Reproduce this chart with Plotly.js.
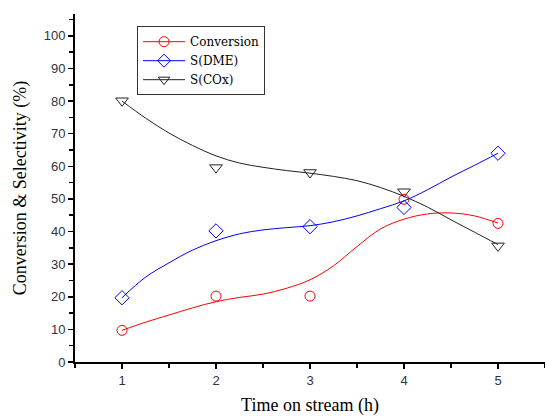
<!DOCTYPE html>
<html>
<head>
<meta charset="utf-8">
<script src="https://cdn.plot.ly/plotly-3.0.1.min.js"></script>
<style>html,body{margin:0;padding:0;background:#fff}#chart{width:545px;height:416px}</style>
</head>
<body>
<div id="chart"></div>
<script>
// measured points
var timeH = [1, 2, 3, 4, 5];
var conversion = [9.7, 20.2, 20.2, 49.9, 42.5];
var sDME = [19.7, 40.2, 41.5, 47.4, 64.0];
var sCOx = [80.1, 59.6, 58.1, 52.2, 35.6];

// smoothed curves
var curveX = [1, 1.25, 1.5, 1.75, 2, 2.25, 2.5, 2.75, 3, 3.25, 3.5, 3.75, 4, 4.25, 4.5, 4.75, 5];
var conversionCurve = [9.7, 12.2, 14.4, 16.6, 18.5, 19.8, 20.8, 22.6, 25.2, 29.5, 35.4, 40.8, 43.8, 45.4, 45.7, 44.8, 42.6];
var dmeCurve = [19.7, 26.0, 30.4, 34.3, 37.2, 39.3, 40.5, 41.2, 41.8, 43.0, 44.8, 47.0, 49.4, 52.8, 56.7, 60.3, 64.0];
var coxCurve = [80.0, 74.8, 70.2, 66.4, 63.2, 61.0, 59.7, 58.7, 57.9, 56.9, 55.6, 53.5, 50.8, 47.5, 43.6, 39.8, 36.0];

var seriesNames = ['Conversion', 'S(DME)', 'S(COx)'];
var colors = ['#ff0000', '#0000ff', '#222222'];
var symbols = ['circle-open', 'diamond-open', 'triangle-down-open'];
var sizes = [10, 11, 11];
var pts = [conversion, sDME, sCOx];
var curves = [conversionCurve, dmeCurve, coxCurve];

var traces = [];
for (var i = 0; i < 3; i++) {
  traces.push({x: curveX, y: curves[i], mode: 'lines', type: 'scatter', showlegend: false,
    line: {color: colors[i], width: 1, shape: 'spline', smoothing: 1}, hoverinfo: 'skip'});
  traces.push({x: timeH, y: pts[i], mode: 'markers', type: 'scatter', showlegend: false,
    marker: {symbol: symbols[i], size: sizes[i], color: colors[i], line: {width: 1, color: colors[i]}}});
}
for (var j = 0; j < 3; j++) {
  traces.push({x: [null], y: [null], mode: 'lines+markers', type: 'scatter', name: seriesNames[j], showlegend: true,
    line: {color: colors[j], width: 1},
    marker: {symbol: symbols[j], size: 10, color: colors[j], line: {width: 1, color: colors[j]}}});
}

var tickFont = {family: 'Liberation Sans, Arial, sans-serif', size: 13, color: '#333340'};
var titleFont = {family: 'Liberation Serif, Times New Roman, serif', size: 18, color: '#000'};

var layout = {
  width: 545, height: 416,
  margin: {l: 75, r: 0, t: 14, b: 54, pad: 0},
  paper_bgcolor: '#fff', plot_bgcolor: '#fff',
  showlegend: true,
  legend: {x: 0.132, y: 0.965, xanchor: 'left', yanchor: 'top',
    bordercolor: '#333', borderwidth: 1, bgcolor: '#fff',
    font: {family: 'DejaVu Serif, Liberation Serif, serif', size: 12, color: '#000'},
    tracegroupgap: 0, itemwidth: 42},
  xaxis: {range: [0.5, 5.5], tickvals: [1, 2, 3, 4, 5], ticktext: ['1', '2', '3', '4', '5'],
    showgrid: false, zeroline: false, showline: true, linecolor: '#000', linewidth: 2,
    ticks: 'outside', ticklen: 5, tickwidth: 1.5, tickcolor: '#000',
    minor: {dtick: 0.5, ticks: 'outside', ticklen: 4, tickwidth: 1.5, tickcolor: '#000', showgrid: false},
    tickfont: tickFont,
    title: {text: 'Time on stream (h)', font: titleFont, standoff: 17}},
  yaxis: {range: [0, 106.7], tickvals: [0, 10, 20, 30, 40, 50, 60, 70, 80, 90, 100],
    showgrid: false, zeroline: false, showline: true, linecolor: '#000', linewidth: 2,
    ticks: 'outside', ticklen: 5, tickwidth: 1.5, tickcolor: '#000',
    minor: {dtick: 5, ticks: 'outside', ticklen: 4, tickwidth: 1.5, tickcolor: '#000', showgrid: false},
    tickfont: tickFont,
    title: {text: 'Conversion &amp; Selectivity (%)', font: titleFont, standoff: 12}}
};

Plotly.newPlot('chart', traces, layout, {displayModeBar: false, staticPlot: true});
</script>
</body>
</html>
